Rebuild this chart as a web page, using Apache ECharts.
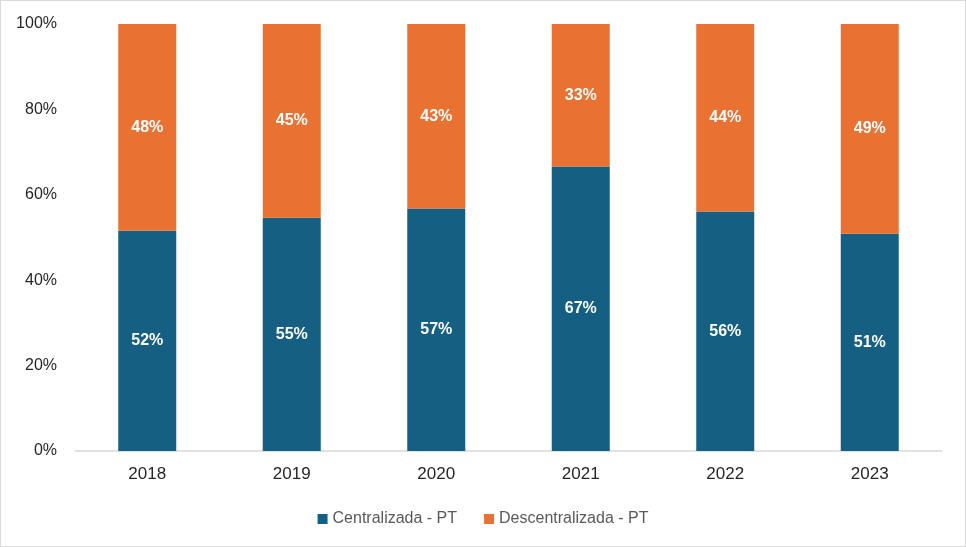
<!DOCTYPE html>
<html>
<head>
<meta charset="utf-8">
<script src="https://cdn.jsdelivr.net/npm/echarts@6/dist/echarts.min.js"></script>
<style>
  html, body { margin: 0; padding: 0; background: #fff; }
  #chart { width: 964px; height: 545px; border: 1px solid #d9d9d9; }
</style>
</head>
<body>
<div id="chart"></div>
<script>
// anos e percentagens
var years = ['2018', '2019', '2020', '2021', '2022', '2023'];
var centralizada = [51.6, 54.6, 56.8, 66.6, 56.1, 50.9];
var descentralizada = [48.4, 45.4, 43.2, 33.4, 43.9, 49.1];

var myChart = echarts.init(document.getElementById('chart'));

var labelStyle = {
  show: true,
  position: 'inside',
  color: '#fff',
  fontFamily: 'Liberation Sans, Arial',
  fontWeight: 'bold',
  fontSize: 16,
  formatter: function (p) { return Math.round(p.value) + '%'; }
};

myChart.setOption({
  animation: false,
  textStyle: { fontFamily: 'Liberation Sans, Arial' },
  grid: { left: 74, right: 23, top: 23, bottom: 95 },
  legend: {
    bottom: 14,
    left: 'center',
    itemWidth: 10,
    itemHeight: 10,
    itemGap: 27,
    icon: 'rect',
    textStyle: { color: '#595959', fontSize: 16, fontFamily: 'Liberation Sans, Arial' },
    data: ['Centralizada - PT', 'Descentralizada - PT']
  },
  xAxis: {
    type: 'category',
    data: years,
    axisLine: { lineStyle: { color: '#d9d9d9', width: 1.5 } },
    axisTick: { show: false },
    axisLabel: { color: '#262626', fontSize: 17, margin: 15 }
  },
  yAxis: {
    type: 'value',
    min: 0,
    max: 100,
    interval: 20,
    axisLine: { show: false },
    axisTick: { show: false },
    splitLine: { show: false },
    axisLabel: { color: '#262626', fontSize: 16, margin: 18, formatter: '{value}%' }
  },
  series: [
    {
      name: 'Centralizada - PT',
      type: 'bar',
      stack: 'total',
      barWidth: 58,
      itemStyle: { color: '#156082' },
      label: labelStyle,
      data: centralizada
    },
    {
      name: 'Descentralizada - PT',
      type: 'bar',
      stack: 'total',
      barWidth: 58,
      itemStyle: { color: '#E97132' },
      label: labelStyle,
      data: descentralizada
    }
  ]
});
</script>
</body>
</html>
